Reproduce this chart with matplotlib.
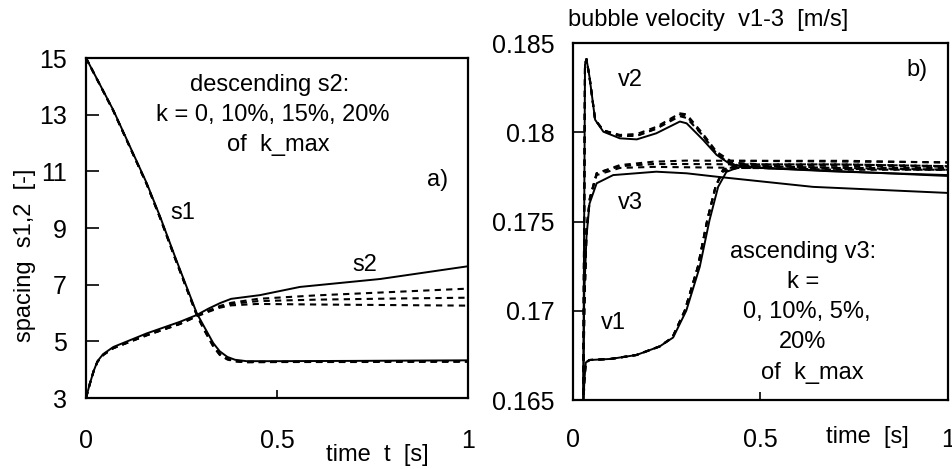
import matplotlib
matplotlib.use("Agg")
import matplotlib.pyplot as plt

plt.rcParams['font.family'] = ['Liberation Sans', 'DejaVu Sans']
plt.rcParams['font.size'] = 17

# ---- panel a): spacing s1, s2 ----
t_s1 = [0, 0.0715, 0.159, 0.194, 0.233, 0.29, 0.31, 0.333, 0.35, 0.37, 0.39, 0.42, 0.5, 0.7, 1.0]
s1_k0 = [15, 13.16, 10.58, 9.4, 7.99, 5.99, 5.5, 4.94, 4.65, 4.45, 4.35, 4.30, 4.30, 4.31, 4.33]
s1_k10 = [15, 13.14, 10.55, 9.37, 7.95, 5.95, 5.42, 4.86, 4.56, 4.38, 4.31, 4.28, 4.28, 4.29, 4.30]
s1_k15 = [15, 13.14, 10.55, 9.36, 7.94, 5.93, 5.40, 4.84, 4.54, 4.37, 4.30, 4.27, 4.27, 4.28, 4.29]
s1_k20 = [15, 13.14, 10.54, 9.35, 7.93, 5.92, 5.38, 4.82, 4.52, 4.36, 4.29, 4.26, 4.27, 4.27, 4.28]

t_s2 = [0, 0.01, 0.02, 0.03, 0.045, 0.0715, 0.159, 0.246, 0.29, 0.32, 0.351, 0.38, 0.455, 0.56, 0.77, 1.0]
s2_k0 = [3.0, 3.5, 3.95, 4.3, 4.55, 4.8, 5.28, 5.69, 5.93, 6.15, 6.35, 6.5, 6.63, 6.92, 7.2, 7.65]

t_s2d = [0, 0.01, 0.02, 0.03, 0.045, 0.0715, 0.159, 0.246, 0.29, 0.32, 0.351, 0.38, 0.45, 0.6, 0.8, 1.0]
s2_k10 = [3.0, 3.5, 3.95, 4.28, 4.52, 4.76, 5.22, 5.62, 5.9, 6.08, 6.25, 6.36, 6.5, 6.62, 6.74, 6.86]
s2_k15 = [3.0, 3.5, 3.95, 4.28, 4.52, 4.76, 5.22, 5.62, 5.89, 6.06, 6.22, 6.32, 6.42, 6.47, 6.51, 6.54]
s2_k20 = [3.0, 3.5, 3.95, 4.28, 4.52, 4.76, 5.21, 5.61, 5.88, 6.04, 6.19, 6.27, 6.32, 6.3, 6.28, 6.26]

# ---- panel b): bubble velocity v1, v2, v3 ----
t_v1 = [0.027, 0.03, 0.034, 0.044, 0.10, 0.169, 0.231, 0.267, 0.302, 0.338, 0.364, 0.387, 0.409, 0.444, 0.5, 0.7, 1.0]
v1_k0 = [0.164, 0.166, 0.1671, 0.16724, 0.1673, 0.16752, 0.1680, 0.1685, 0.1700, 0.17246, 0.17507, 0.17694, 0.17778, 0.17806, 0.1780, 0.1778, 0.1776]
t_v1d = [0.027, 0.03, 0.034, 0.044, 0.10, 0.169, 0.231, 0.265, 0.298, 0.333, 0.358, 0.38, 0.40, 0.44, 0.5, 0.7, 1.0]
v1_k10 = [0.164, 0.166, 0.1671, 0.16724, 0.1673, 0.16752, 0.1680, 0.1685, 0.1700, 0.17246, 0.17507, 0.17694, 0.1779, 0.1782, 0.1782, 0.1782, 0.1781]
v1_k15 = [0.164, 0.166, 0.1671, 0.16724, 0.1673, 0.16752, 0.1680, 0.1685, 0.1700, 0.17246, 0.17507, 0.17694, 0.1779, 0.1781, 0.1781, 0.1780, 0.1780]
v1_k20 = [0.164, 0.166, 0.1671, 0.16724, 0.1673, 0.16752, 0.1680, 0.1685, 0.1700, 0.17246, 0.17507, 0.17694, 0.1778, 0.1780, 0.1780, 0.1779, 0.1779]

t_v2 = [0.027, 0.032, 0.036, 0.044, 0.059, 0.081, 0.125, 0.17, 0.222, 0.285, 0.303, 0.347, 0.383, 0.42, 0.507, 0.729, 1.0]
v2_k0 = [0.164, 0.1838, 0.1841, 0.1831, 0.1807, 0.18003, 0.17966, 0.1796, 0.17994, 0.1806, 0.1805, 0.17957, 0.17873, 0.1782, 0.1780, 0.1778, 0.17755]
v2_k10 = [0.164, 0.1838, 0.1841, 0.1831, 0.1807, 0.1801, 0.17985, 0.1799, 0.1803, 0.18106, 0.1810, 0.1799, 0.1789, 0.1784, 0.1784, 0.1784, 0.1783]
v2_k15 = [0.164, 0.1838, 0.1841, 0.1831, 0.1807, 0.1801, 0.1798, 0.1798, 0.1802, 0.1810, 0.1809, 0.1798, 0.1788, 0.1783, 0.1782, 0.1782, 0.1781]
v2_k20 = [0.164, 0.1838, 0.1841, 0.1831, 0.1807, 0.1801, 0.1798, 0.1798, 0.1802, 0.1809, 0.1808, 0.1798, 0.1788, 0.1782, 0.1781, 0.1780, 0.1779]

t_v3 = [0.027, 0.030, 0.036, 0.044, 0.063, 0.107, 0.222, 0.303, 0.383, 0.64, 1.0]
v3_k0 = [0.164, 0.171, 0.17415, 0.1760, 0.17714, 0.1776, 0.17779, 0.1777, 0.17751, 0.17694, 0.1766]
t_v3d = [0.027, 0.030, 0.036, 0.045, 0.063, 0.125, 0.214, 0.3, 0.45, 0.7, 1.0]
v3_k10 = [0.164, 0.170, 0.1745, 0.1763, 0.1777, 0.17816, 0.17835, 0.17841, 0.1784, 0.17836, 0.17832]
v3_k15 = [0.164, 0.170, 0.1745, 0.1763, 0.1777, 0.1781, 0.17822, 0.17822, 0.1782, 0.17812, 0.17807]
v3_k20 = [0.164, 0.170, 0.1745, 0.1763, 0.1776, 0.1780, 0.17806, 0.17804, 0.1780, 0.17795, 0.17789]

s_ticks = [3, 5, 7, 9, 11, 13, 15]
v_ticks = [0.165, 0.17, 0.175, 0.18, 0.185]
v_tick_labels = ["0.165", "0.17", "0.175", "0.18", "0.185"]
t_ticks = [0, 0.5, 1]
t_tick_labels = ["0", "0.5", "1"]

W, H = 953, 469
fig = plt.figure(figsize=(W / 100, H / 100), dpi=100)


def ftext(x, y, s, **kw):
    # place text by pixel position in the figure (top-left origin)
    fig.text(x / W, 1 - y / H, s, ha="center", va="center", **kw)


solid = dict(color="black", lw=1.4)
dash = dict(color="black", lw=1.5, dashes=(3, 2.5))

# panel a
ax1 = fig.add_axes([86 / W, 1 - 398 / H, 382 / W, 340 / H])
ax1.plot(t_s1, s1_k0, **solid)
for y in (s1_k10, s1_k15, s1_k20):
    ax1.plot(t_s1, y, **dash)
ax1.plot(t_s2, s2_k0, **solid)
for y in (s2_k10, s2_k15, s2_k20):
    ax1.plot(t_s2d, y, **dash)
ax1.set_xlim(0, 1)
ax1.set_ylim(3, 15)
ax1.set_yticks(s_ticks)
ax1.set_xticks(t_ticks)
ax1.set_xticklabels(t_tick_labels)
ax1.tick_params(axis="both", labelsize=18)
ax1.tick_params(axis="y", direction="in", length=9, width=1.2, pad=14)
ax1.tick_params(axis="x", direction="in", length=6, width=1.2, pad=22)

ftext(270, 85, "descending s2:")
ftext(273, 115, "k = 0, 10%, 15%, 20%")
ftext(278, 145, "of  k_max")
ftext(438, 180, "a)")
ftext(183, 213, "s1")
ftext(365, 265, "s2")
ftext(377, 455, "time  t  [s]")
fig.text(25 / W, 1 - 255 / H, "spacing  s1,2  [-]", rotation=90, ha="center", va="center")

# panel b
ax2 = fig.add_axes([573 / W, 1 - 400 / H, 375 / W, 357 / H])
ax2.plot(t_v1, v1_k0, **solid)
for y in (v1_k10, v1_k15, v1_k20):
    ax2.plot(t_v1d, y, **dash)
ax2.plot(t_v2, v2_k0, **solid)
for y in (v2_k10, v2_k15, v2_k20):
    ax2.plot(t_v2, y, **dash)
ax2.plot(t_v3, v3_k0, **solid)
for y in (v3_k10, v3_k15, v3_k20):
    ax2.plot(t_v3d, y, **dash)
ax2.set_xlim(0, 1)
ax2.set_ylim(0.165, 0.185)
ax2.set_yticks(v_ticks)
ax2.set_yticklabels(v_tick_labels)
ax2.set_xticks(t_ticks)
ax2.set_xticklabels(t_tick_labels)
ax2.tick_params(axis="both", labelsize=18)
ax2.tick_params(axis="y", direction="in", length=8, width=1.2, pad=13)
ax2.tick_params(axis="x", direction="in", length=6, width=1.2, pad=20)

ftext(630, 80, "v2")
ftext(630, 203, "v3")
ftext(613, 323, "v1")
ftext(917, 70, "b)")
ftext(803, 252, "ascending v3:")
ftext(803, 282, "k =")
ftext(807, 312, "0, 10%, 5%,")
ftext(803, 342, "20%")
ftext(812, 373, "of  k_max")
ftext(867, 437, "time  [s]")
ftext(708, 20, "bubble velocity  v1-3  [m/s]")

for ax in (ax1, ax2):
    for sp in ax.spines.values():
        sp.set_linewidth(1.6)

fig.savefig("out.png", dpi=100)
